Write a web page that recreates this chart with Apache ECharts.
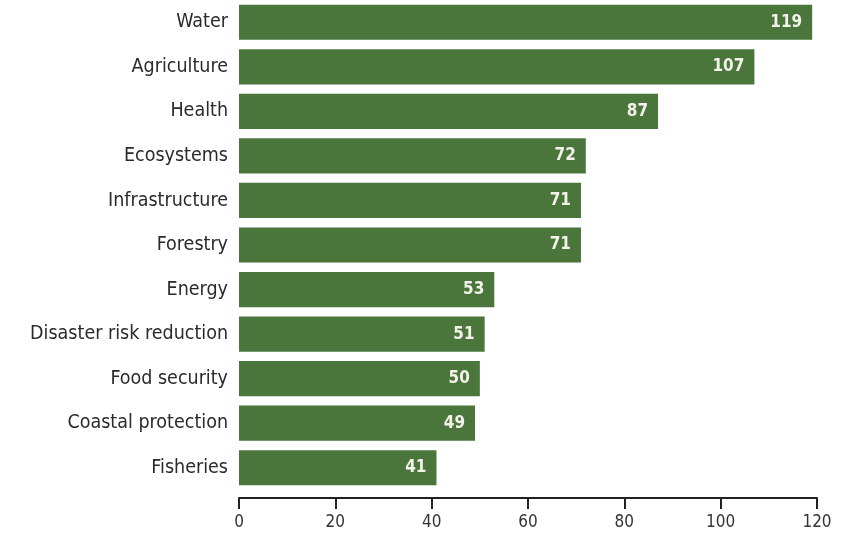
<!DOCTYPE html>
<html><head><meta charset="utf-8">
<script src="https://cdn.jsdelivr.net/npm/echarts@6/dist/echarts.min.js"></script>
<style>html,body{margin:0;padding:0;background:#fff}#c{width:841px;height:534px}</style>
</head><body><div id="c"></div>
<script>
const categories = ["Water","Agriculture","Health","Ecosystems","Infrastructure","Forestry","Energy","Disaster risk reduction","Food security","Coastal protection","Fisheries"];
const values = [119,107,87,72,71,71,53,51,50,49,41];
const xTicks = [0,20,40,60,80,100,120];
const chart = echarts.init(document.getElementById('c'));
chart.setOption({
  animation:false,
  grid:{left:239,right:24,top:-1,bottom:44,containLabel:false},
  xAxis:{type:'value',min:0,max:120,interval:20,offset:8,
    axisLine:{show:true,lineStyle:{color:'#222',width:2}},
    axisTick:{show:true,length:11,inside:false,lineStyle:{color:'#222',width:2}},
    splitLine:{show:false},
    axisLabel:{color:'#333',fontSize:17,margin:16,fontFamily:"'Liberation Sans Narrow','DejaVu Sans Condensed',sans-serif",
      formatter:v=>xTicks.includes(v)?String(v):''}},
  yAxis:{type:'category',inverse:true,data:categories,
    axisLine:{show:false},axisTick:{show:false},
    axisLabel:{color:'#2a2a2a',fontSize:19.5,margin:11,fontFamily:"'Liberation Sans Narrow','DejaVu Sans Condensed',sans-serif"}},
  series:[{type:'bar',data:values,barCategoryGap:'21%',
    itemStyle:{color:'#4a763b'},
    label:{show:true,position:'insideRight',distance:10,color:'#f2f2ea',fontWeight:'bold',fontSize:17,
      fontFamily:"'Liberation Sans Narrow','DejaVu Sans Condensed',sans-serif"}}]
});
</script></body></html>
